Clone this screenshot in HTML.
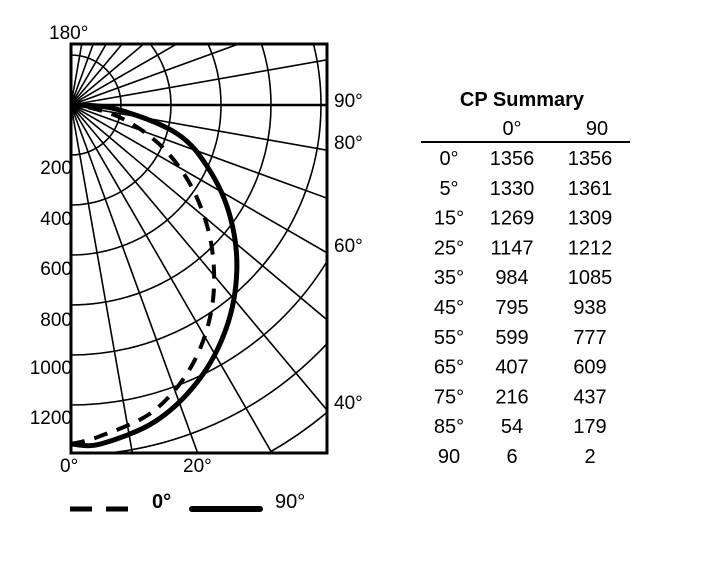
<!DOCTYPE html>
<html><head><meta charset="utf-8"><style>
body{margin:0;background:#fff;width:704px;height:575px;overflow:hidden;font-family:"Liberation Sans",Arial,sans-serif;}
svg text{font-family:"Liberation Sans",Arial,sans-serif;fill:#000;}
</style></head><body>
<svg id="chart" width="704" height="575" xmlns="http://www.w3.org/2000/svg">
<defs><clipPath id="plotClip"><rect x="71" y="44" width="256" height="409"/></clipPath></defs>
<g id="grid" clip-path="url(#plotClip)"></g>
<g id="series" clip-path="url(#plotClip)"></g>
<line x1="71" y1="105" x2="327" y2="105" stroke="#000" stroke-width="2.5"/>
<rect x="71" y="44" width="256" height="409" fill="none" stroke="#000" stroke-width="3"/>
<g font-size="19">
<text x="49" y="39">180°</text>
<text x="72" y="174" text-anchor="end">200</text>
<text x="72" y="225" text-anchor="end">400</text>
<text x="72" y="275" text-anchor="end">600</text>
<text x="72" y="326" text-anchor="end">800</text>
<text x="72" y="374" text-anchor="end">1000</text>
<text x="72" y="424" text-anchor="end">1200</text>
<text x="334" y="107">90°</text>
<text x="334" y="149">80°</text>
<text x="334" y="252">60°</text>
<text x="334" y="409">40°</text>
<text x="60" y="472">0°</text>
<text x="183" y="472">20°</text>
</g>
<g>
<line x1="70" y1="509" x2="128" y2="509" stroke="#000" stroke-width="5" stroke-dasharray="22 14"/>
<text x="152" y="508" font-size="20" font-weight="bold">0°</text>
<line x1="192" y1="509" x2="260" y2="509" stroke="#000" stroke-width="6" stroke-linecap="round"/>
<text x="275" y="508" font-size="20">90°</text>
</g>
<g id="table" font-size="20">
<text x="522" y="106" text-anchor="middle" font-weight="bold">CP Summary</text>
<text x="512" y="135" text-anchor="middle">0°</text>
<text x="597" y="135" text-anchor="middle">90</text>
<line x1="421" y1="142" x2="630" y2="142" stroke="#000" stroke-width="2"/>
</g>
</svg>
<script>
const angles=[0,5,15,25,35,45,55,65,75,85,90];
const angleLabels=["0°","5°","15°","25°","35°","45°","55°","65°","75°","85°","90"];
const plane0=[1356,1330,1269,1147,984,795,599,407,216,54,6];
const plane90=[1356,1361,1309,1212,1085,938,777,609,437,179,2];
const cx=71,cy=105,scale=0.25;
const NS="http://www.w3.org/2000/svg";
function px(r,a){const t=a*Math.PI/180;return [cx+r*scale*Math.sin(t),cy+r*scale*Math.cos(t)];}
const grid=document.getElementById('grid');
for(let r=200;r<=1800;r+=200){
  const c=document.createElementNS(NS,'circle');
  c.setAttribute('cx',cx);c.setAttribute('cy',cy);c.setAttribute('r',r*scale);
  c.setAttribute('fill','none');c.setAttribute('stroke','#000');c.setAttribute('stroke-width','1.6');
  
  
  grid.appendChild(c);
}
for(let a=0;a<=180;a+=10){
  const p=px(2000,a);
  const l=document.createElementNS(NS,'line');
  l.setAttribute('x1',cx);l.setAttribute('y1',cy);l.setAttribute('x2',p[0]);l.setAttribute('y2',p[1]);
  l.setAttribute('stroke','#000');l.setAttribute('stroke-width','1.6');
  
  
  grid.appendChild(l);
}
function path(vals){
  const pts=vals.map((v,i)=>px(v,angles[i]));
  let d='M'+pts[0][0].toFixed(1)+' '+pts[0][1].toFixed(1);
  for(let i=0;i<pts.length-1;i++){
    const p0=pts[Math.max(0,i-1)],p1=pts[i],p2=pts[i+1],p3=pts[Math.min(pts.length-1,i+2)];
    const c1=[p1[0]+(p2[0]-p0[0])/6,p1[1]+(p2[1]-p0[1])/6];
    const c2=[p2[0]-(p3[0]-p1[0])/6,p2[1]-(p3[1]-p1[1])/6];
    d+=' C'+c1.map(n=>n.toFixed(1)).join(' ')+' '+c2.map(n=>n.toFixed(1)).join(' ')+' '+p2.map(n=>n.toFixed(1)).join(' ');
  }
  return d;
}
const sg=document.getElementById('series');
const s90=document.createElementNS(NS,'path');
s90.setAttribute('d',path(plane90));s90.setAttribute('fill','none');s90.setAttribute('stroke','#000');s90.setAttribute('stroke-width','5');s90.setAttribute('stroke-linejoin','round');s90.setAttribute('stroke-linecap','round');


sg.appendChild(s90);
const s0=document.createElementNS(NS,'path');
s0.setAttribute('d',path(plane0));s0.setAttribute('fill','none');s0.setAttribute('stroke','#000');s0.setAttribute('stroke-width','4');s0.setAttribute('stroke-dasharray','14 10');


sg.appendChild(s0);
const tb=document.getElementById('table');
angles.forEach((a,i)=>{
  const y=165+i*29.8;
  [[449,angleLabels[i],'row-angle'],[512,plane0[i],'row-value-0'],[590,plane90[i],'row-value-90']].forEach(c=>{
    const t=document.createElementNS(NS,'text');
    t.setAttribute('x',c[0]);t.setAttribute('y',y);t.setAttribute('text-anchor','middle');
    t.textContent=c[1];
    
    
    tb.appendChild(t);
  });
});
</script>
</body></html>
